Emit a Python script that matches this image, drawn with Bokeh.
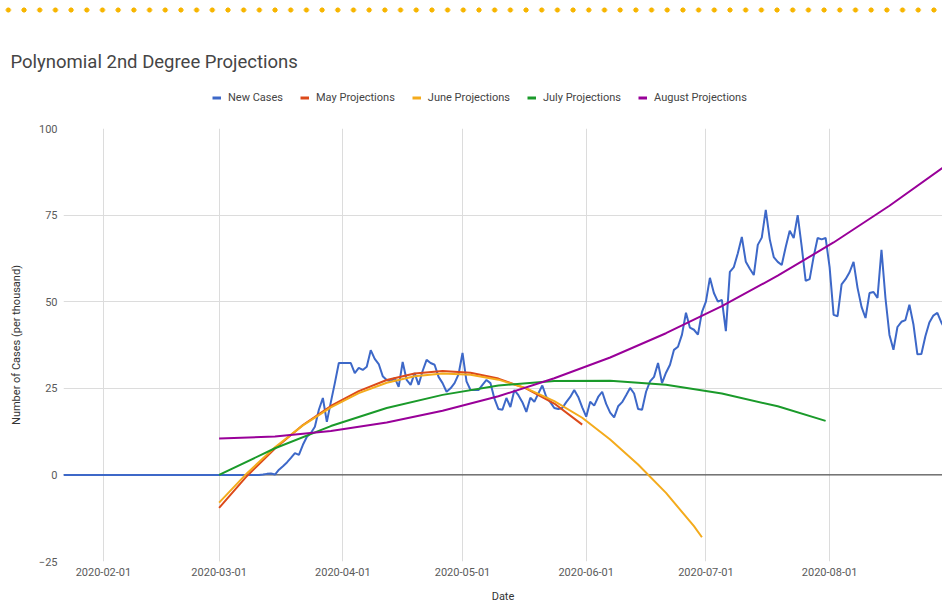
import pandas as pd
from bokeh.plotting import figure
from bokeh.models import (Div, Legend, LegendItem, Span, FixedTicker,
                          DatetimeTickFormatter, Range1d)
from bokeh.layouts import column
from bokeh.embed import file_html
from bokeh.resources import INLINE

# ---------------- data ----------------
title_text = "Polynomial 2nd Degree Projections"
x_label = "Date"
y_label = "Number of Cases (per thousand)"

x_tick_labels = ["2020-02-01", "2020-03-01", "2020-04-01", "2020-05-01",
                 "2020-06-01", "2020-07-01", "2020-08-01"]
y_ticks = [-25, 0, 25, 50, 75, 100]

new_cases_start = "2020-01-22"
new_cases = [
    # Jan 22 - Jan 31
    0, 0, 0, 0, 0, 0, 0, 0, 0, 0,
    # Feb 1 - Feb 29
    0, 0, 0, 0, 0, 0, 0, 0, 0, 0, 0, 0, 0, 0, 0, 0, 0, 0, 0, 0,
    0, 0, 0, 0, 0, 0, 0, 0, 0,
    # Mar 1 - Mar 13
    0, 0, 0, 0, 0, 0, 0, 0, 0, 0, 0, 0.1, 0.3,
    # Mar 14 - Mar 31
    0.4, 0.1, 1.5, 2.5, 3.6, 4.9, 6.3, 5.8, 8.7, 11.0, 12.1, 13.9, 18.8,
    22.2, 15.3, 21.0, 26.5, 32.3,
    # Apr 1 - Apr 30
    32.3, 32.3, 32.3, 29.4, 30.9, 30.3, 31.2, 36.0, 33.5, 32.0, 28.5, 27.4,
    27.0, 28.0, 25.4, 32.6, 27.4, 26.0, 29.4, 26.0, 30.0, 33.2, 32.3, 31.8,
    28.3, 26.5, 24.0, 25.0, 26.5, 29.0,
    # May 1 - May 31
    35.2, 27.0, 24.5, 24.5, 24.5, 26.0, 27.4, 26.5, 22.0, 19.0, 18.8, 22.2,
    19.6, 24.5, 23.0, 21.0, 18.2, 22.3, 21.1, 23.5, 25.8, 22.5, 21.0, 19.3,
    19.0, 19.3, 21.0, 22.5, 24.5, 22.5, 19.5,
    # Jun 1 - Jun 30
    16.8, 21.1, 20.0, 22.5, 24.0, 20.5, 18.0, 16.6, 19.8, 21.0, 23.0, 25.1,
    23.5, 19.0, 18.8, 24.0, 27.0, 28.3, 32.3, 26.5, 29.5, 31.8, 36.1, 37.0,
    40.5, 46.8, 42.5, 41.9, 40.5, 47.0,
    # Jul 1 - Jul 31
    50.0, 56.9, 52.5, 50.0, 50.5, 41.5, 58.6, 60.0, 64.0, 68.7, 61.5, 59.5,
    57.7, 66.4, 68.5, 76.5, 68.0, 62.9, 61.5, 60.6, 65.8, 70.5, 68.4, 75.0,
    66.0, 56.0, 56.5, 63.0, 68.4, 68.0, 68.4,
    # Aug 1 - Aug 30
    60.0, 46.2, 45.8, 55.0, 56.5, 58.5, 61.5, 54.0, 48.5, 45.3, 52.5, 52.8,
    51.1, 65.0, 51.0, 40.4, 36.1, 42.7, 44.2, 44.7, 49.1, 43.5, 34.8, 34.9,
    40.0, 44.0, 46.0, 46.8, 44.0, 42.0,
]

may_dates = ["2020-03-01", "2020-03-08", "2020-03-15", "2020-03-22", "2020-03-29",
             "2020-04-05", "2020-04-12", "2020-04-19", "2020-04-26", "2020-05-03",
             "2020-05-10", "2020-05-17", "2020-05-24", "2020-05-31"]
may_values = [-9.5, -0.3, 7.6, 14.4, 19.9, 24.2, 27.4, 29.3, 30.0, 29.5,
              27.8, 24.9, 20.6, 14.5]

june_dates = ["2020-03-01", "2020-03-08", "2020-03-15", "2020-03-22", "2020-03-29",
              "2020-04-05", "2020-04-12", "2020-04-19", "2020-04-26", "2020-05-03",
              "2020-05-10", "2020-05-17", "2020-05-24", "2020-05-31", "2020-06-07",
              "2020-06-14", "2020-06-21", "2020-06-28", "2020-06-30"]
june_values = [-8.0, 0.5, 8.0, 14.3, 19.5, 23.6, 26.6, 28.5, 29.3, 28.9,
               27.5, 25.0, 21.3, 16.5, 10.2, 3.0, -5.2, -14.8, -18.0]

july_dates = ["2020-03-01", "2020-03-15", "2020-03-29", "2020-04-12", "2020-04-26",
              "2020-05-10", "2020-05-24", "2020-06-07", "2020-06-21", "2020-07-05",
              "2020-07-19", "2020-07-31"]
july_values = [0.0, 7.7, 14.1, 19.3, 23.1, 25.8, 27.1, 27.2, 26.0, 23.5, 19.8, 15.6]

august_dates = ["2020-03-01", "2020-03-15", "2020-03-29", "2020-04-12", "2020-04-26",
                "2020-05-10", "2020-05-24", "2020-06-07", "2020-06-21", "2020-07-05",
                "2020-07-19", "2020-08-02", "2020-08-16", "2020-08-31"]
august_values = [10.5, 11.1, 12.7, 15.1, 18.5, 22.7, 27.9, 33.9, 40.9, 48.7,
                 57.5, 67.1, 77.7, 90.0]

series_names = ["New Cases", "May Projections", "June Projections",
                "July Projections", "August Projections"]
series_colors = ["#3d68c8", "#dc4a1a", "#f4ab1c", "#1a9a2a", "#990099"]

FONT = "Roboto"
W = 942
NAN = float("nan")

# ---------------- decorative dotted rule ----------------
dots = Div(text="", width=W, height=31, margin=0,
           styles={"background-image": "radial-gradient(circle, #f7b500 2.3px, rgba(255,255,255,0) 2.8px)",
                   "background-size": "15.7px 20px",
                   "background-position": "0.5px 0px",
                   "background-repeat": "repeat-x"})

# ---------------- header: title + legend ----------------
header = figure(width=W, height=89, x_range=Range1d(0, 1), y_range=Range1d(0, 1),
                x_axis_type=None, y_axis_type=None, output_backend="svg",
                toolbar_location=None, margin=0,
                min_border_left=0, min_border_right=0, min_border_bottom=0,
                min_border_top=58)
header.outline_line_color = None
header.grid.visible = False
header.title.text = title_text
header.title.text_font = FONT
header.title.text_font_size = "18.5px"
header.title.text_font_style = "normal"
header.title.text_color = "#454545"
header.title.align = "left"
header.title.offset = -53
header.title.standoff = 34
header.title.vertical_align = "bottom"

legend_renderers = [header.line(x=[NAN], y=[NAN], line_color=c, line_width=3)
                    for c in series_colors]
legend = Legend(items=[LegendItem(label=n, renderers=[r])
                       for n, r in zip(series_names, legend_renderers)],
                orientation="horizontal", location=(149, 16),
                border_line_color=None, background_fill_alpha=0,
                label_text_font=FONT, label_text_font_size="11px",
                label_text_color="#444444",
                glyph_width=9, glyph_height=13, label_standoff=7, spacing=17,
                padding=0, margin=0)
header.add_layout(legend)

# ---------------- main chart ----------------
nc_dates = pd.date_range(new_cases_start, periods=len(new_cases), freq="D")

p = figure(width=W, height=485, x_axis_type="datetime",
           x_range=Range1d(pd.Timestamp("2020-01-22"), pd.Timestamp("2020-08-29 07:00")),
           y_range=Range1d(-25, 100),
           output_backend="svg", toolbar_location=None, margin=0,
           min_border_left=63, min_border_right=0, min_border_top=8,
           min_border_bottom=44)
p.outline_line_color = None

tick_ms = [int(t.value // 10**6) for t in pd.to_datetime(x_tick_labels)]
p.xaxis.ticker = FixedTicker(ticks=tick_ms)
fmt = "%Y-%m-%d"
p.xaxis.formatter = DatetimeTickFormatter(
    microseconds=fmt, milliseconds=fmt, seconds=fmt, minsec=fmt, minutes=fmt,
    hourmin=fmt, hours=fmt, days=fmt, months=fmt, years=fmt)
p.yaxis.ticker = FixedTicker(ticks=y_ticks)

for ax in (p.xaxis[0], p.yaxis[0]):
    ax.axis_line_color = None
    ax.major_tick_line_color = None
    ax.minor_tick_line_color = None
    ax.major_tick_out = 0
    ax.major_tick_in = 0
    ax.minor_tick_out = 0
    ax.minor_tick_in = 0
    ax.major_label_text_font = FONT
    ax.major_label_text_font_size = "11px"
    ax.major_label_text_color = "#5a5a5a"
    ax.axis_label_text_font = FONT
    ax.axis_label_text_font_size = "11px"
    ax.axis_label_text_font_style = "normal"
    ax.axis_label_text_color = "#333333"

p.xaxis.axis_label = x_label
p.yaxis.axis_label = y_label
p.xaxis.major_label_standoff = 6
p.xaxis.axis_label_standoff = 11
p.yaxis.major_label_standoff = 6
p.yaxis.axis_label_standoff = 13

p.grid.grid_line_color = "#dcdcdc"
p.grid.grid_line_width = 1

baseline = Span(location=0, dimension="width", line_color="#333333",
                line_width=1, level="underlay")
p.add_layout(baseline)

p.line(nc_dates, new_cases, line_color=series_colors[0], line_width=2)
p.line(pd.to_datetime(may_dates), may_values, line_color=series_colors[1], line_width=2)
p.line(pd.to_datetime(june_dates), june_values, line_color=series_colors[2], line_width=2)
p.line(pd.to_datetime(july_dates), july_values, line_color=series_colors[3], line_width=2)
p.line(pd.to_datetime(august_dates), august_values, line_color=series_colors[4], line_width=2)

layout = column(dots, header, p, spacing=0, width=W, height=605, sizing_mode="fixed")
open("out.html", "w").write(file_html(layout, INLINE))
